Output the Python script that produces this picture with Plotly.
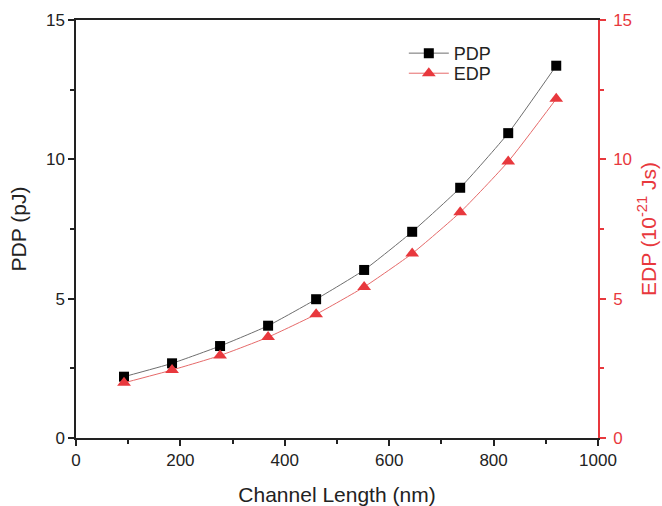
import plotly.graph_objects as go

# Channel length sweep (nm)
channel_length = [92, 184, 276, 368, 460, 552, 644, 736, 828, 920]
# Power-delay product (pJ)
pdp = [2.20, 2.68, 3.30, 4.03, 4.98, 6.03, 7.40, 8.98, 10.94, 13.36]
# Energy-delay product (1e-21 Js)
edp = [1.98, 2.44, 2.96, 3.62, 4.44, 5.42, 6.62, 8.10, 9.92, 12.17]

x_ticks = [0, 200, 400, 600, 800, 1000]
y_ticks = [0, 5, 10, 15]

RED = "#e8383d"
FONT = "Liberation Sans, Arial, sans-serif"

fig = go.Figure()
fig.add_trace(go.Scatter(
    x=channel_length, y=pdp, name="PDP", mode="lines+markers", legend="legend",
    line=dict(color="#6e6e6e", width=1, shape="spline", smoothing=0.5),
    marker=dict(symbol="square", size=10, color="black"),
))
fig.add_trace(go.Scatter(
    x=channel_length, y=edp, name="EDP", mode="lines+markers", yaxis="y2",
    legend="legend2",
    line=dict(color="#e66a6a", width=1, shape="spline", smoothing=0.5),
    marker=dict(symbol="triangle-up", size=12, color=RED),
))

legend_style = dict(xanchor="left", yanchor="middle", bgcolor="rgba(0,0,0,0)",
                    font=dict(size=18, color="#222"), itemwidth=40)

fig.update_layout(
    width=662, height=506,
    margin=dict(l=76, r=64, t=20, b=68, autoexpand=False),
    plot_bgcolor="white", paper_bgcolor="white",
    font=dict(family=FONT, size=17, color="#222"),
    showlegend=True,
    legend=dict(x=0.628, y=0.92, **legend_style),
    legend2=dict(x=0.628, y=0.872, **legend_style),
    xaxis=dict(
        range=[0, 1000], tickvals=x_ticks, ticks="outside", ticklen=6,
        tickwidth=1.5, tickcolor="#222", showline=True, linecolor="#222",
        linewidth=1.5, mirror=True, showgrid=False, zeroline=False,
        automargin=False,
        title=dict(text="Channel Length (nm)", font=dict(size=21), standoff=19),
        minor=dict(ticks="outside", ticklen=4, tickwidth=1.5,
                   tickcolor="#222", dtick=100, showgrid=False),
    ),
    yaxis=dict(
        range=[0, 15], tickvals=y_ticks, ticks="outside", ticklen=6,
        tickwidth=1.5, tickcolor="#222", showline=True, linecolor="#222",
        linewidth=1.5, showgrid=False, zeroline=False, automargin=False,
        title=dict(text="PDP (pJ)", font=dict(size=21), standoff=14),
        minor=dict(ticks="outside", ticklen=4, tickwidth=1.5,
                   tickcolor="#222", dtick=2.5, showgrid=False),
    ),
    yaxis2=dict(
        overlaying="y", side="right", anchor="x",
        range=[0, 15], tickvals=y_ticks, ticks="outside", ticklen=6,
        tickwidth=1.5, tickcolor=RED, showline=True, linecolor=RED,
        linewidth=1.5, showgrid=False, zeroline=False, automargin=False,
        tickfont=dict(color=RED), ticklabelstandoff=4,
        title=dict(text="EDP (10<sup>-21</sup> Js)", font=dict(size=21, color=RED),
                   standoff=10),
        minor=dict(ticks="outside", ticklen=4, tickwidth=1.5,
                   tickcolor=RED, dtick=2.5, showgrid=False),
    ),
)

fig.write_html("out.html")
